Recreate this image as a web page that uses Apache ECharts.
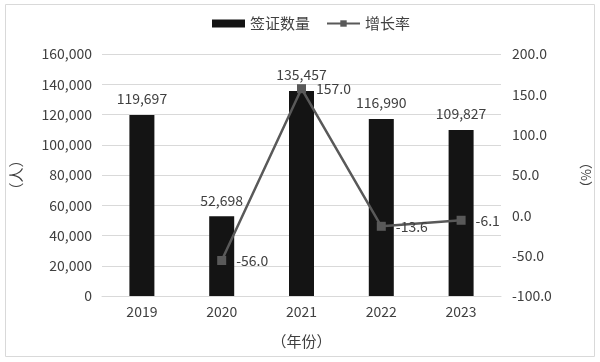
<!DOCTYPE html>
<html><head><meta charset="utf-8">
<script src="https://cdn.jsdelivr.net/npm/echarts@6/dist/echarts.min.js"></script>
<style>html,body{margin:0;padding:0;background:#fff}#c{width:600px;height:362px}</style>
</head><body><div id="c"></div>
<script>
const categories = ['2019','2020','2021','2022','2023'];
const visas = [119697, 52698, 135457, 116990, 109827];
const growth = [null, -56.0, 157.0, -13.6, -6.1];
const FONT = '"Noto Sans CJK SC", "Noto Sans", sans-serif';
const chart = echarts.init(document.getElementById('c'));
chart.setOption({
  animation: false,
  textStyle: {fontFamily: FONT},
  graphic: [{type:'rect', shape:{x:5.5,y:4.5,width:589,height:352}, style:{fill:'none', stroke:'#d9d9d9', lineWidth:1}, silent:true}],
  legend: {
    top: 11, left: 207, itemWidth: 33, itemHeight: 8, itemGap: 16,
    textStyle: {fontFamily: FONT, fontSize: 15, color: '#404040'},
    data: [{name:'签证数量', icon:'rect'}, {name:'增长率'}]
  },
  grid: {left: 102, right: 94, top: 54, bottom: 66},
  xAxis: {
    type: 'category', data: categories,
    name: '（年份）', nameLocation: 'middle', nameGap: 38,
    nameTextStyle: {fontFamily: FONT, fontSize: 15, color: '#404040'},
    axisLine: {lineStyle: {color: '#d9d9d9'}}, axisTick: {show: false},
    axisLabel: {fontFamily: FONT, fontSize: 14, color: '#404040', margin: 9}
  },
  yAxis: [{
    type: 'value', min: 0, max: 160000, interval: 20000,
    name: '（人）', nameLocation: 'middle', nameGap: 78, nameRotate: 90,
    nameTextStyle: {fontFamily: FONT, fontSize: 15, color: '#404040'},
    axisLine: {show: false}, axisTick: {show: false},
    splitLine: {lineStyle: {color: '#d9d9d9'}},
    axisLabel: {fontFamily: FONT, fontSize: 14, color: '#404040', margin: 10,
      formatter: v => v.toLocaleString('en-US')}
  }, {
    type: 'value', min: -100, max: 200, interval: 50, position: 'right',
    name: '（%）', nameLocation: 'middle', nameGap: 78, nameRotate: -90,
    nameTextStyle: {fontFamily: FONT, fontSize: 13, color: '#404040'},
    axisLine: {show: false}, axisTick: {show: false}, splitLine: {show: false},
    axisLabel: {fontFamily: FONT, fontSize: 14, color: '#404040', margin: 11,
      formatter: v => v.toFixed(1)}
  }],
  series: [{
    name: '签证数量', type: 'bar', data: visas, barWidth: 25,
    itemStyle: {color: '#141414'},
    label: {show: true, position: 'top', distance: 9, fontFamily: FONT, fontSize: 14, color: '#404040',
      formatter: p => p.value.toLocaleString('en-US')}
  }, {
    name: '增长率', type: 'line', yAxisIndex: 1, data: growth,
    symbol: 'rect', symbolSize: 9, connectNulls: false,
    lineStyle: {color: '#595959', width: 2.5}, itemStyle: {color: '#595959'},
    label: {show: true, position: 'right', distance: 10, fontFamily: FONT, fontSize: 14, color: '#404040',
      formatter: p => p.value.toFixed(1)}
  }]
});
</script></body></html>
